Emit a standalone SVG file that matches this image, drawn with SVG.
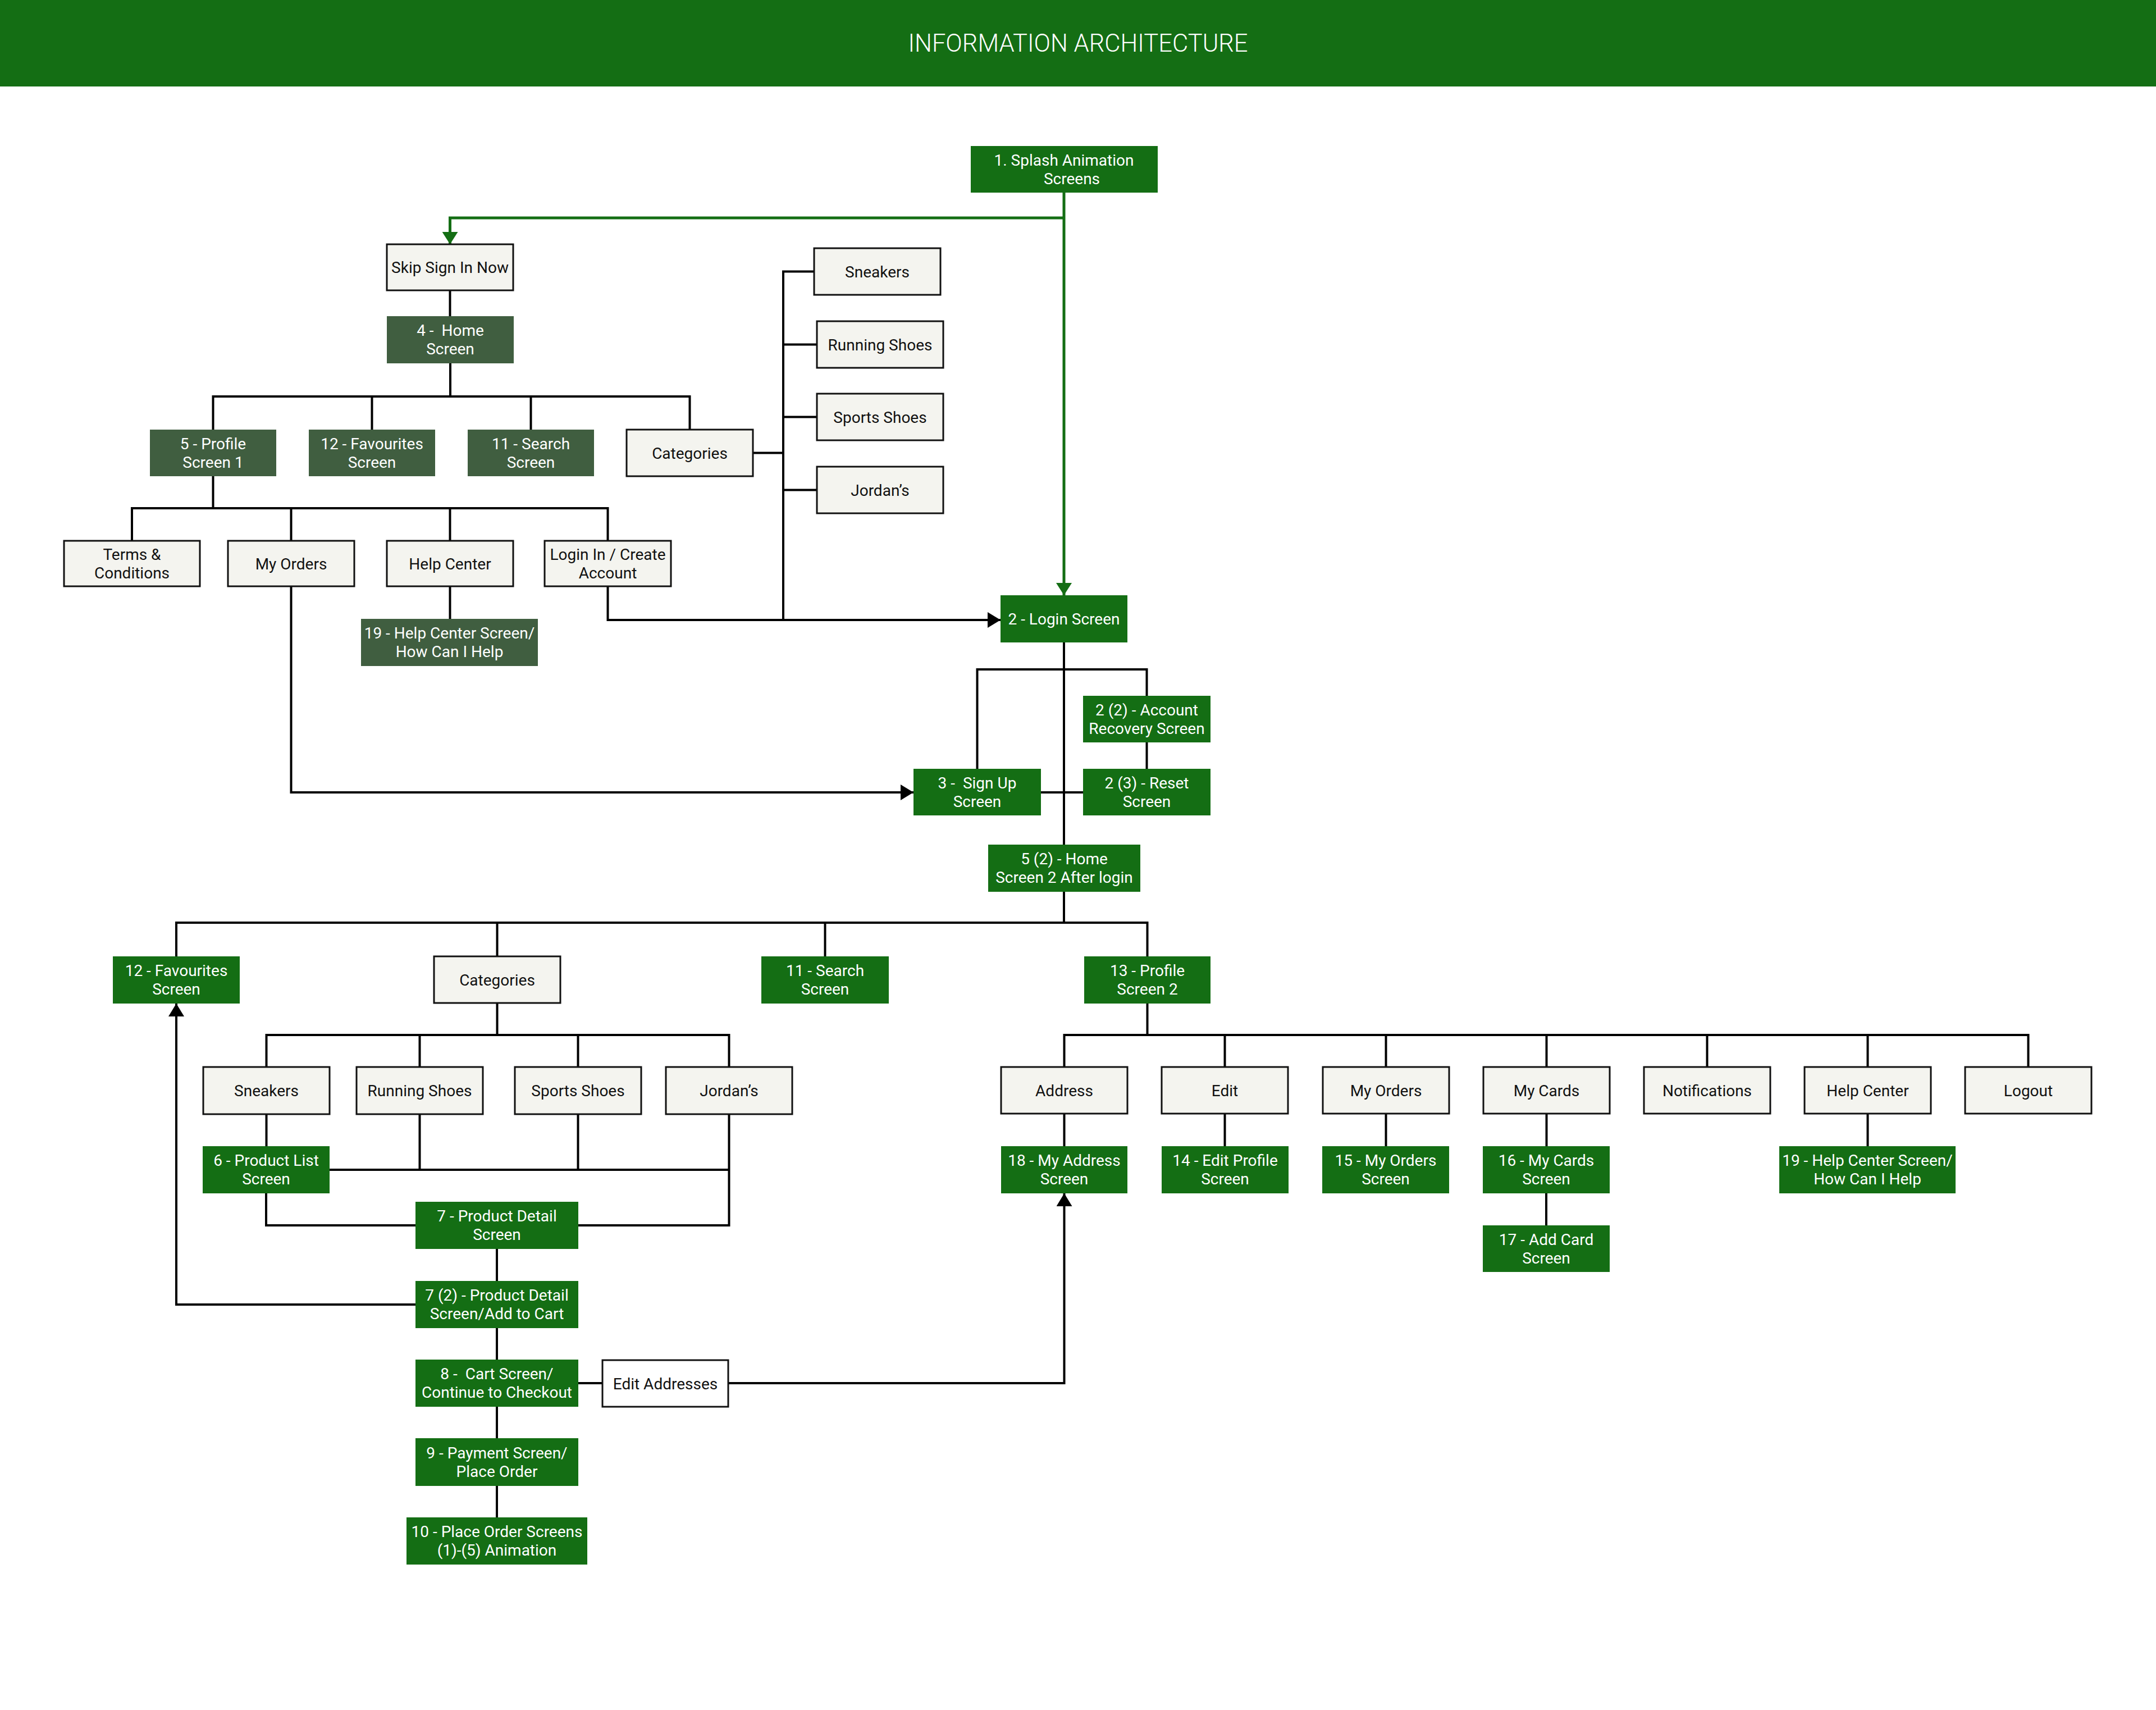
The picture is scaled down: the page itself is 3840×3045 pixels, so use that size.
<svg xmlns="http://www.w3.org/2000/svg" width="3840" height="3045" viewBox="0 0 3840 3045">
<defs>
<style>
.g{fill:#146E14}
.d{fill:#405E40}
.l{fill:#F4F4EF;stroke:#111;stroke-width:3}
.w{fill:#FFFFFF;stroke:#111;stroke-width:3}
text{font-family:Roboto,"Liberation Sans",sans-serif;font-size:28px;text-anchor:middle}
.tw{fill:#FFFFFF}
.tb{fill:#111111}
.c{fill:none;stroke:#000;stroke-width:4}
.cg{fill:none;stroke:#146E14;stroke-width:5}
</style>
<marker id="ab" markerUnits="userSpaceOnUse" markerWidth="24" markerHeight="28" refX="23" refY="14" orient="auto"><path d="M0,0 L23,14 L0,28 z" fill="#000"/></marker>
<marker id="ag" markerUnits="userSpaceOnUse" markerWidth="24" markerHeight="28" refX="22" refY="14" orient="auto"><path d="M0,0 L22,14 L0,28 z" fill="#146E14"/></marker>
</defs>
<rect x="0" y="0" width="3840" height="3045" fill="#FFFFFF"/>
<g id="header">
<rect x="0" y="0" width="3840" height="154" fill="#146E14"/>
<text x="1920" y="92" style="font-size:43.5px;font-weight:300;fill:#FFFFFF">INFORMATION ARCHITECTURE</text>
</g>

<g id="connectors">
<path class="cg" d="M1895,343 V1060" marker-end="url(#ag)"/>
<path class="cg" d="M1895,388 H801.5 V435" marker-end="url(#ag)"/>
<path class="c" d="M801.5,517 V563"/>
<path class="c" d="M802,647 V706"/>
<path class="c" d="M379.5,765 V706 H1228.5 V765"/>
<path class="c" d="M662.5,706 V765 M945.5,706 V765"/>
<path class="c" d="M1341,806.5 H1395"/>
<path class="c" d="M1450,483.5 H1395 V1104"/>
<path class="c" d="M1395,613.5 H1455 M1395,742.5 H1455 M1395,872.5 H1455"/>
<path class="c" d="M379.5,848 V905"/>
<path class="c" d="M235,963 V905 H1082.5 V963"/>
<path class="c" d="M518.5,905 V963 M801.5,905 V963"/>
<path class="c" d="M801.5,1044 V1102"/>
<path class="c" d="M1082.5,1044 V1104 H1782" marker-end="url(#ab)"/>
<path class="c" d="M518.5,1044 V1411 H1627" marker-end="url(#ab)"/>
<path class="c" d="M1895,1144 V1504"/>
<path class="c" d="M1740.5,1369 V1192 H2042.5 V1239"/>
<path class="c" d="M2042.5,1322 V1369"/>
<path class="c" d="M1854,1411 H1929"/>
<path class="c" d="M1895,1588 V1643"/>
<path class="c" d="M314,1703 V1643 H2043.5 V1703"/>
<path class="c" d="M885.5,1643 V1703 M1469.5,1643 V1703"/>
<path class="c" d="M885.5,1786 V1843"/>
<path class="c" d="M474.5,1900 V1843 H1298.5 V1900"/>
<path class="c" d="M747.5,1843 V1900 M1029.5,1843 V1900"/>
<path class="c" d="M474.5,1984 V2041"/>
<path class="c" d="M747.5,1984 V2083 M1029.5,1984 V2083 M587,2083 H1298.5"/>
<path class="c" d="M1298.5,1984 V2182 H1030"/>
<path class="c" d="M474,2125 V2182 H740"/>
<path class="c" d="M885,2224 V2281 M885,2365 V2421 M885,2505 V2561 M885,2646 V2702"/>
<path class="c" d="M740,2323 H314 V1787" marker-end="url(#ab)"/>
<path class="c" d="M1030,2463 H1073"/>
<path class="c" d="M1297,2463 H1895.5 V2125" marker-end="url(#ab)"/>
<path class="c" d="M2043.5,1787 V1843"/>
<path class="c" d="M1895.5,1900 V1843 H3612.5 V1900"/>
<path class="c" d="M2181.5,1843 V1900 M2468.5,1843 V1900 M2754.5,1843 V1900 M3040.5,1843 V1900 M3326.5,1843 V1900"/>
<path class="c" d="M1895.5,1983 V2041 M2181.5,1983 V2041 M2468.5,1983 V2041 M2754.5,1983 V2041 M3326.5,1983 V2041"/>
<path class="c" d="M2754,2125 V2182"/>
</g>

<g id="n-splash"><rect class="g" x="1729" y="260" width="333" height="83"/><text class="tw"><tspan x="1895" y="295">1. Splash Animation</tspan><tspan x="1909" y="328">Screens</tspan></text></g>
<g id="n-skip"><rect class="l" x="689" y="435" width="225" height="82"/><text class="tb" x="801.5" y="486">Skip Sign In Now</text></g>
<g id="n-home4"><rect class="d" x="689" y="563" width="226" height="84"/><text class="tw"><tspan x="802" y="598">4 -&#160; Home</tspan><tspan x="802" y="631">Screen</tspan></text></g>
<g id="n-profile5"><rect class="d" x="267" y="765" width="225" height="83"/><text class="tw"><tspan x="379.5" y="799.5">5 - Profile</tspan><tspan x="379.5" y="832.5">Screen 1</tspan></text></g>
<g id="n-fav12a"><rect class="d" x="550" y="765" width="225" height="83"/><text class="tw"><tspan x="662.5" y="799.5">12 - Favourites</tspan><tspan x="662.5" y="832.5">Screen</tspan></text></g>
<g id="n-search11a"><rect class="d" x="833" y="765" width="225" height="83"/><text class="tw"><tspan x="945.5" y="799.5">11 - Search</tspan><tspan x="945.5" y="832.5">Screen</tspan></text></g>
<g id="n-categories1"><rect class="l" x="1116" y="765" width="225" height="83"/><text class="tb" x="1228.5" y="816.5">Categories</text></g>
<g id="n-sneakers1"><rect class="l" x="1450" y="442" width="225" height="83"/><text class="tb" x="1562.5" y="493.5">Sneakers</text></g>
<g id="n-running1"><rect class="l" x="1455" y="572" width="225" height="83"/><text class="tb" x="1567.5" y="623.5">Running Shoes</text></g>
<g id="n-sports1"><rect class="l" x="1455" y="701" width="225" height="83"/><text class="tb" x="1567.5" y="752.5">Sports Shoes</text></g>
<g id="n-jordans1"><rect class="l" x="1455" y="831" width="225" height="83"/><text class="tb" x="1567.5" y="882.5">Jordan’s</text></g>
<g id="n-terms"><rect class="l" x="114" y="963" width="242" height="81"/><text class="tb"><tspan x="235" y="996.5">Terms &amp;</tspan><tspan x="235" y="1029.5">Conditions</tspan></text></g>
<g id="n-myorders1"><rect class="l" x="406" y="963" width="225" height="81"/><text class="tb" x="518.5" y="1013.5">My Orders</text></g>
<g id="n-helpcenter1"><rect class="l" x="689" y="963" width="225" height="81"/><text class="tb" x="801.5" y="1013.5">Help Center</text></g>
<g id="n-logincreate"><rect class="l" x="970" y="963" width="225" height="81"/><text class="tb"><tspan x="1082.5" y="996.5">Login In / Create</tspan><tspan x="1082.5" y="1029.5">Account</tspan></text></g>
<g id="n-help19a"><rect class="d" x="643" y="1102" width="315" height="84"/><text class="tw"><tspan x="800.5" y="1137">19 - Help Center Screen/</tspan><tspan x="800.5" y="1170">How Can I Help</tspan></text></g>
<g id="n-login"><rect class="g" x="1782" y="1060" width="226" height="84"/><text class="tw" x="1895" y="1112">2 - Login Screen</text></g>
<g id="n-recovery"><rect class="g" x="1929" y="1239" width="227" height="83"/><text class="tw"><tspan x="2042.5" y="1273.5">2 (2) - Account</tspan><tspan x="2042.5" y="1306.5">Recovery Screen</tspan></text></g>
<g id="n-signup"><rect class="g" x="1627" y="1369" width="227" height="83"/><text class="tw"><tspan x="1740.5" y="1403.5">3 -&#160; Sign Up</tspan><tspan x="1740.5" y="1436.5">Screen</tspan></text></g>
<g id="n-reset"><rect class="g" x="1929" y="1369" width="227" height="83"/><text class="tw"><tspan x="2042.5" y="1403.5">2 (3) - Reset</tspan><tspan x="2042.5" y="1436.5">Screen</tspan></text></g>
<g id="n-home52"><rect class="g" x="1760" y="1504" width="271" height="84"/><text class="tw"><tspan x="1895.5" y="1539">5 (2) - Home</tspan><tspan x="1895.5" y="1572">Screen 2 After login</tspan></text></g>

<g id="n-fav12b"><rect class="g" x="201" y="1703" width="226" height="84"/><text class="tw"><tspan x="314" y="1738">12 - Favourites</tspan><tspan x="314" y="1771">Screen</tspan></text></g>
<g id="n-categories2"><rect class="l" x="773" y="1703" width="225" height="83"/><text class="tb" x="885.5" y="1754.5">Categories</text></g>
<g id="n-search11b"><rect class="g" x="1356" y="1703" width="227" height="84"/><text class="tw"><tspan x="1469.5" y="1738">11 - Search</tspan><tspan x="1469.5" y="1771">Screen</tspan></text></g>
<g id="n-profile13"><rect class="g" x="1931" y="1703" width="225" height="84"/><text class="tw"><tspan x="2043.5" y="1738">13 - Profile</tspan><tspan x="2043.5" y="1771">Screen 2</tspan></text></g>
<g id="n-sneakers2"><rect class="l" x="362" y="1900" width="225" height="84"/><text class="tb" x="474.5" y="1952">Sneakers</text></g>
<g id="n-running2"><rect class="l" x="635" y="1900" width="225" height="84"/><text class="tb" x="747.5" y="1952">Running Shoes</text></g>
<g id="n-sports2"><rect class="l" x="917" y="1900" width="225" height="84"/><text class="tb" x="1029.5" y="1952">Sports Shoes</text></g>
<g id="n-jordans2"><rect class="l" x="1186" y="1900" width="225" height="84"/><text class="tb" x="1298.5" y="1952">Jordan’s</text></g>
<g id="n-productlist6"><rect class="g" x="361" y="2041" width="226" height="84"/><text class="tw"><tspan x="474" y="2076">6 - Product List</tspan><tspan x="474" y="2109">Screen</tspan></text></g>
<g id="n-productdetail7"><rect class="g" x="740" y="2140" width="290" height="84"/><text class="tw"><tspan x="885" y="2175">7 - Product Detail</tspan><tspan x="885" y="2208">Screen</tspan></text></g>
<g id="n-productdetail72"><rect class="g" x="740" y="2281" width="290" height="84"/><text class="tw"><tspan x="885" y="2316">7 (2) - Product Detail</tspan><tspan x="885" y="2349">Screen/Add to Cart</tspan></text></g>
<g id="n-cart8"><rect class="g" x="740" y="2421" width="290" height="84"/><text class="tw"><tspan x="885" y="2456">8 -&#160; Cart Screen/</tspan><tspan x="885" y="2489">Continue to Checkout</tspan></text></g>
<g id="n-editaddresses"><rect class="w" x="1073" y="2422" width="224" height="83"/><text class="tb" x="1185" y="2473.5">Edit Addresses</text></g>
<g id="n-payment9"><rect class="g" x="740" y="2561" width="290" height="85"/><text class="tw"><tspan x="885" y="2596.5">9 - Payment Screen/</tspan><tspan x="885" y="2629.5">Place Order</tspan></text></g>
<g id="n-placeorder10"><rect class="g" x="724" y="2702" width="322" height="84"/><text class="tw"><tspan x="885" y="2737">10 - Place Order Screens</tspan><tspan x="885" y="2770">(1)-(5) Animation</tspan></text></g>

<g id="n-address"><rect class="l" x="1783" y="1900" width="225" height="83"/><text class="tb" x="1895.5" y="1951.5">Address</text></g>
<g id="n-edit"><rect class="l" x="2069" y="1900" width="225" height="83"/><text class="tb" x="2181.5" y="1951.5">Edit</text></g>
<g id="n-myorders2"><rect class="l" x="2356" y="1900" width="225" height="83"/><text class="tb" x="2468.5" y="1951.5">My Orders</text></g>
<g id="n-mycards"><rect class="l" x="2642" y="1900" width="225" height="83"/><text class="tb" x="2754.5" y="1951.5">My Cards</text></g>
<g id="n-notifications"><rect class="l" x="2928" y="1900" width="225" height="83"/><text class="tb" x="3040.5" y="1951.5">Notifications</text></g>
<g id="n-helpcenter2"><rect class="l" x="3214" y="1900" width="225" height="83"/><text class="tb" x="3326.5" y="1951.5">Help Center</text></g>
<g id="n-logout"><rect class="l" x="3500" y="1900" width="225" height="83"/><text class="tb" x="3612.5" y="1951.5">Logout</text></g>
<g id="n-myaddress18"><rect class="g" x="1783" y="2041" width="225" height="84"/><text class="tw"><tspan x="1895.5" y="2076">18 - My Address</tspan><tspan x="1895.5" y="2109">Screen</tspan></text></g>
<g id="n-editprofile14"><rect class="g" x="2069" y="2041" width="226" height="84"/><text class="tw"><tspan x="2182" y="2076">14 - Edit Profile</tspan><tspan x="2182" y="2109">Screen</tspan></text></g>
<g id="n-myorders15"><rect class="g" x="2355" y="2041" width="226" height="84"/><text class="tw"><tspan x="2468" y="2076">15 - My Orders</tspan><tspan x="2468" y="2109">Screen</tspan></text></g>
<g id="n-mycards16"><rect class="g" x="2641" y="2041" width="226" height="84"/><text class="tw"><tspan x="2754" y="2076">16 - My Cards</tspan><tspan x="2754" y="2109">Screen</tspan></text></g>
<g id="n-help19b"><rect class="g" x="3169" y="2041" width="314" height="84"/><text class="tw"><tspan x="3326" y="2076">19 - Help Center Screen/</tspan><tspan x="3326" y="2109">How Can I Help</tspan></text></g>
<g id="n-addcard17"><rect class="g" x="2641" y="2182" width="226" height="83"/><text class="tw"><tspan x="2754" y="2216.5">17 - Add Card</tspan><tspan x="2754" y="2249.5">Screen</tspan></text></g>
</svg>
